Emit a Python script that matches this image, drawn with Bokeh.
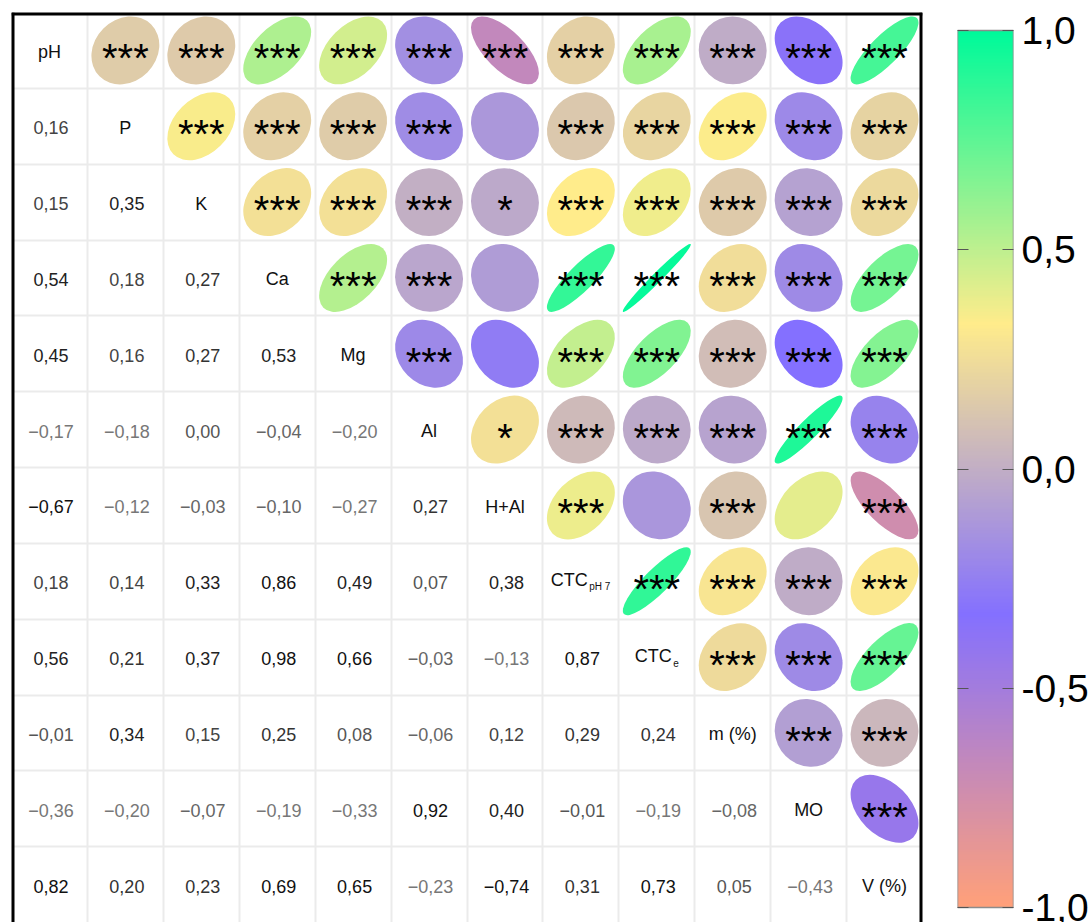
import numpy as np
from bokeh.plotting import figure
from bokeh.models import (ColumnDataSource, Range1d, FixedTicker, Span, LinearColorMapper,
                          LinearAxis, CustomJSTickFormatter)
from bokeh.layouts import row
from bokeh.core.properties import value
from bokeh.embed import file_html
from bokeh.resources import INLINE

# ---------------- data ----------------
variables = ["pH", "P", "K", "Ca", "Mg", "Al", "H+Al", "CTC", "CTC", "m (%)", "MO", "V (%)"]
var_subscripts = ["", "", "", "", "", "", "", "pH 7", "e", "", "", ""]

# lower triangle correlations, row i holds columns 0..i-1
corr_rows = [
    [],
    [0.16],
    [0.15, 0.35],
    [0.54, 0.18, 0.27],
    [0.45, 0.16, 0.27, 0.53],
    [-0.17, -0.18, 0.00, -0.04, -0.20],
    [-0.67, -0.12, -0.03, -0.10, -0.27, 0.27],
    [0.18, 0.14, 0.33, 0.86, 0.49, 0.07, 0.38],
    [0.56, 0.21, 0.37, 0.98, 0.66, -0.03, -0.13, 0.87],
    [-0.01, 0.34, 0.15, 0.25, 0.08, -0.06, 0.12, 0.29, 0.24],
    [-0.36, -0.20, -0.07, -0.19, -0.33, 0.92, 0.40, -0.01, -0.19, -0.08],
    [0.82, 0.20, 0.23, 0.69, 0.65, -0.23, -0.74, 0.31, 0.73, 0.05, -0.43],
]

# significance marks of the upper triangle, row i holds columns i+1..11
signif_rows = [
    ["***", "***", "***", "***", "***", "***", "***", "***", "***", "***", "***"],
    ["***", "***", "***", "***", "", "***", "***", "***", "***", "***"],
    ["***", "***", "***", "*", "***", "***", "***", "***", "***"],
    ["***", "***", "", "***", "***", "***", "***", "***"],
    ["***", "", "***", "***", "***", "***", "***"],
    ["*", "***", "***", "***", "***", "***"],
    ["***", "", "***", "", "***"],
    ["***", "***", "***", "***"],
    ["***", "***", "***"],
    ["***", "***"],
    ["***"],
]

colorbar_ticks = [-1.0, -0.5, 0.0, 0.5, 1.0]

# ---------------- colours ----------------
stop_vals = [-1.0, -1.0 / 3.0, 1.0 / 3.0, 1.0]
stop_cols = ["#FFA07A", "#8470FF", "#FFEC8B", "#00FA9A"]


def hex2rgb(h):
    return np.array([int(h[1:3], 16), int(h[3:5], 16), int(h[5:7], 16)], dtype=float)


grid_v = np.linspace(-1, 1, 256)
rgb = np.stack([np.interp(grid_v, stop_vals, [hex2rgb(c)[k] for c in stop_cols]) for k in range(3)], axis=1)
palette = ["#%02x%02x%02x" % tuple(int(round(c)) for c in col) for col in rgb]
mapper = LinearColorMapper(palette=palette, low=-1, high=1)

n = len(variables)


def corr(i, j):
    return corr_rows[max(i, j)][min(i, j)]


def fmt(v):
    return f"{v:.2f}".replace(".", ",").replace("-", "\u2212")


def txt_color(v):
    if abs(v) >= 0.6:
        return "#111111"
    if v >= 0.33:
        return "#222222"
    if v >= 0.2:
        return "#333333"
    if v >= 0.1:
        return "#444444"
    if v >= -0.02:
        return "#555555"
    if v >= -0.1:
        return "#666666"
    return "#777777"


# ---------------- sources ----------------
ex, ey, er, ew, eh, st = [], [], [], [], [], []
half = 0.4475
for i in range(n):
    for k, j in enumerate(range(i + 1, n)):
        r = corr(i, j)
        d = np.arccos(r)
        ex.append(j + 0.5)
        ey.append(n - 0.5 - i)
        er.append(r)
        ew.append(2 * half * np.sqrt(2) * np.cos(d / 2))
        eh.append(2 * half * np.sqrt(2) * np.sin(d / 2))
        st.append(signif_rows[i][k])
ell_src = ColumnDataSource(dict(x=ex, y=ey, r=er, w=ew, h=eh, stars=st))

nx, ny, nl, nc = [], [], [], []
for i in range(n):
    for j in range(i):
        v = corr(i, j)
        nx.append(j + 0.5)
        ny.append(n - 0.5 - i)
        nl.append(fmt(v))
        nc.append(txt_color(v))
num_src = ColumnDataSource(dict(x=nx, y=ny, label=nl, color=nc))

plain = dict(x=[], y=[], label=[])
subm = dict(x=[], y=[], label=[], sub=[], off=[], soff=[])
for i, (name, sub) in enumerate(zip(variables, var_subscripts)):
    if sub:
        sw = len(sub) * 5.3
        off = (35 - sw) / 2
        subm["x"].append(i + 0.5)
        subm["y"].append(n - 0.5 - i)
        subm["label"].append(name)
        subm["sub"].append(sub)
        subm["off"].append(off)
        subm["soff"].append(off + 1.5)
    else:
        plain["x"].append(i + 0.5)
        plain["y"].append(n - 0.5 - i)
        plain["label"].append(name)
plain_src = ColumnDataSource(plain)
sub_src = ColumnDataSource(subm)

FONT = "Liberation Sans"
TOP = 12          # frame top (px)
FRAME_H = 910     # frame height (px)

# ---------------- main matrix ----------------
p = figure(frame_width=911, frame_height=FRAME_H, x_range=Range1d(0, n), y_range=Range1d(0, n),
           x_axis_location=None, y_axis_location=None, toolbar_location=None,
           title_location=None, output_backend="svg", min_border_left=11, min_border_top=TOP,
           min_border_right=10, min_border_bottom=0)
p.outline_line_color = None
p.background_fill_color = "white"
p.border_fill_color = "white"
p.xgrid.ticker = FixedTicker(ticks=list(range(n + 1)))
p.ygrid.ticker = FixedTicker(ticks=list(range(n + 1)))
p.grid.grid_line_color = "#EBEBEB"
p.grid.grid_line_width = 2

p.ellipse(x="x", y="y", width="w", height="h", angle=np.pi / 4, source=ell_src,
          fill_color={"field": "r", "transform": mapper}, line_color=None)
p.text(x="x", y="y", text="stars", source=ell_src, text_font=value(FONT),
       text_font_size="40px", text_align="center", text_baseline="alphabetic",
       y_offset=8, text_color="black")
p.text(x="x", y="y", text="label", source=num_src, text_font=value(FONT),
       text_font_size="18px", text_align="center", text_baseline="alphabetic",
       y_offset=1.5, x_offset=1.5, text_color="color")
p.text(x="x", y="y", text="label", source=plain_src, text_font=value(FONT),
       text_font_size="18px", text_align="center", text_baseline="alphabetic",
       y_offset=1.5, text_color="#111111")
p.text(x="x", y="y", text="label", source=sub_src, text_font=value(FONT),
       text_font_size="18px", text_align="right", text_baseline="alphabetic",
       y_offset=-1.5, x_offset="off", text_color="#111111")
p.text(x="x", y="y", text="sub", source=sub_src, text_font=value(FONT),
       text_font_size="10px", text_align="left", text_baseline="alphabetic",
       y_offset=5.5, x_offset="soff", text_color="#111111")

for loc, dim in [(0, "height"), (n, "height"), (n, "width")]:
    p.add_layout(Span(location=loc, dimension=dim, line_color="black", line_width=6))

# ---------------- colour bar ----------------
# bar spans page y 30..907 while the frame spans TOP..TOP+FRAME_H
px_per_unit = (907 - 30) / 2.0
cb_top = 1 + (30 - TOP) / px_per_unit
cb_bot = -1 - (TOP + FRAME_H - 907) / px_per_unit
cb = figure(frame_width=56, frame_height=FRAME_H, x_range=Range1d(0, 1),
            y_range=Range1d(cb_bot, cb_top),
            x_axis_location=None, y_axis_location=None, toolbar_location=None,
            title_location=None, output_backend="svg", min_border_left=25, min_border_top=TOP,
            min_border_bottom=0, min_border_right=10)
cb.grid.visible = False
cb.outline_line_color = None
cb.background_fill_color = "white"
cb.border_fill_color = "white"
grad = np.linspace(-1, 1, 600).reshape(-1, 1)
cb.image(image=[grad], x=0, y=-1, dw=1, dh=2, color_mapper=mapper)
cb.quad(left=0, right=1, bottom=-1, top=1, fill_color=None, line_color="#8c8c8c", line_width=1.5)

right_ax = LinearAxis(ticker=FixedTicker(ticks=colorbar_ticks),
                      formatter=CustomJSTickFormatter(code="return tick.toFixed(1).replace('.', ',');"),
                      major_tick_in=11, major_tick_out=0, minor_tick_line_color=None,
                      axis_line_color=None, major_tick_line_color="#555555",
                      major_label_text_font=FONT, major_label_text_font_size="39px",
                      major_label_text_color="black", major_label_standoff=8)
cb.add_layout(right_ax, "right")
left_ax = LinearAxis(ticker=FixedTicker(ticks=colorbar_ticks),
                     major_tick_in=11, major_tick_out=0, minor_tick_line_color=None,
                     axis_line_color=None, major_tick_line_color="#555555",
                     major_label_text_font_size="1px", major_label_text_color=None,
                     major_label_standoff=0)
cb.add_layout(left_ax, "left")

layout = row(p, cb)
open("out.html", "w").write(file_html(layout, INLINE))
